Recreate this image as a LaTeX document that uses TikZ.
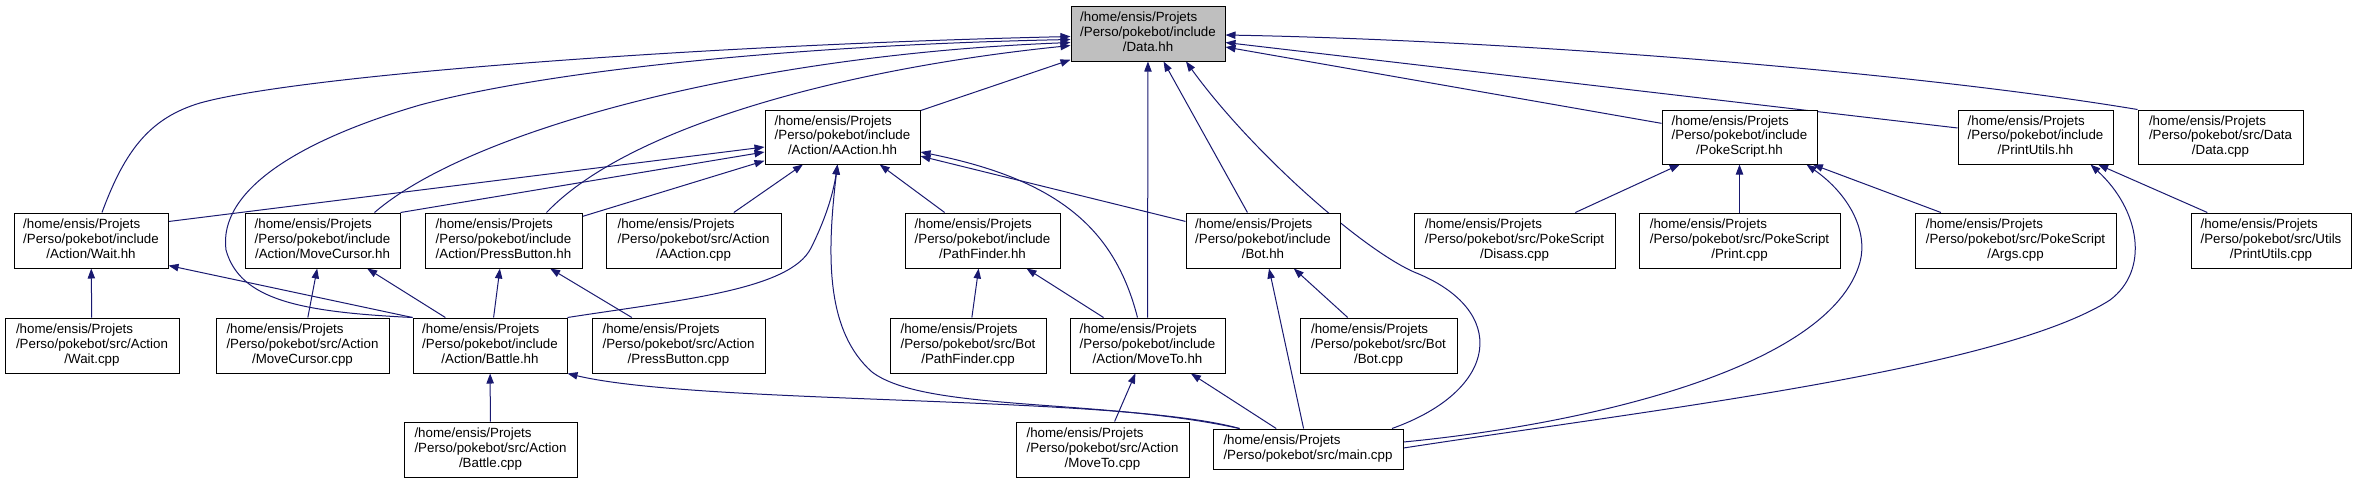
\documentclass[tikz,border=0pt]{standalone}
\usepackage{fontspec}
\setmainfont{Liberation Sans}
\usetikzlibrary{arrows.meta,calc}
\pgfdeclarelayer{background}
\pgfsetlayers{background,main}
\definecolor{edgec}{RGB}{25,25,112}
\definecolor{datafill}{RGB}{191,191,191}
\newcommand{\lblthree}[3]{\begin{tabular}{@{}l@{}}#1\\#2\\\multicolumn{1}{@{}c@{}}{#3}\end{tabular}}
\newcommand{\lbltwo}[2]{\begin{tabular}{@{}l@{}}#1\\\multicolumn{1}{@{}c@{}}{#2}\end{tabular}}
\newcommand{\bx}[7][]{%
  \pgfmathsetmacro{\bxcx}{(#3+#5)/2}%
  \pgfmathsetmacro{\bxcy}{(#4+#6)/2}%
  \pgfmathsetmacro{\bxw}{(#5-#3)*0.75}%
  \pgfmathsetmacro{\bxh}{(#6-#4)*0.75}%
  \node[box,#1,minimum width=\bxw pt,minimum height=\bxh pt] (#2) at (\bxcx,\bxcy) {#7};}
\begin{document}
\begin{tikzpicture}[x=0.75pt,y=-0.75pt,
  box/.style={draw=black,line width=0.75pt,fill=white,inner sep=0pt,font=\fontsize{10}{11}\selectfont},
  conn/.style={draw=edgec,line width=0.75pt,-{Triangle[length=7.5pt,width=5.5pt]}}]
\useasboundingbox (0,0) rectangle (2356,483);
% row 0
\bx[fill=datafill]{data}{1071}{6}{1225}{61}{\lblthree{/home/ensis/Projets}{/Perso/pokebot/include}{/Data.hh}}
% row 1
\bx{aaction}{765}{110}{920}{164}{\lblthree{/home/ensis/Projets}{/Perso/pokebot/include}{/Action/AAction.hh}}
\bx{pokescript}{1662}{110}{1817}{164}{\lblthree{/home/ensis/Projets}{/Perso/pokebot/include}{/PokeScript.hh}}
\bx{printutils}{1958}{110}{2113}{164}{\lblthree{/home/ensis/Projets}{/Perso/pokebot/include}{/PrintUtils.hh}}
\bx{datacpp}{2138}{110}{2303}{164}{\lblthree{/home/ensis/Projets}{/Perso/pokebot/src/Data}{/Data.cpp}}
% row 2
\bx{wait}{14}{213}{168}{268}{\lblthree{/home/ensis/Projets}{/Perso/pokebot/include}{/Action/Wait.hh}}
\bx{movecursor}{245}{213}{400}{268}{\lblthree{/home/ensis/Projets}{/Perso/pokebot/include}{/Action/MoveCursor.hh}}
\bx{pressbutton}{425}{213}{582}{268}{\lblthree{/home/ensis/Projets}{/Perso/pokebot/include}{/Action/PressButton.hh}}
\bx{aactioncpp}{606}{213}{781}{268}{\lblthree{/home/ensis/Projets}{/Perso/pokebot/src/Action}{/AAction.cpp}}
\bx{pathfinder}{905}{213}{1060}{268}{\lblthree{/home/ensis/Projets}{/Perso/pokebot/include}{/PathFinder.hh}}
\bx{bot}{1186}{213}{1340}{268}{\lblthree{/home/ensis/Projets}{/Perso/pokebot/include}{/Bot.hh}}
\bx{disass}{1414}{213}{1615}{268}{\lblthree{/home/ensis/Projets}{/Perso/pokebot/src/PokeScript}{/Disass.cpp}}
\bx{printcpp}{1639}{213}{1840}{268}{\lblthree{/home/ensis/Projets}{/Perso/pokebot/src/PokeScript}{/Print.cpp}}
\bx{args}{1915}{213}{2116}{268}{\lblthree{/home/ensis/Projets}{/Perso/pokebot/src/PokeScript}{/Args.cpp}}
\bx{printutilscpp}{2191}{213}{2351}{268}{\lblthree{/home/ensis/Projets}{/Perso/pokebot/src/Utils}{/PrintUtils.cpp}}
% row 3
\bx{waitcpp}{5}{318}{179}{373}{\lblthree{/home/ensis/Projets}{/Perso/pokebot/src/Action}{/Wait.cpp}}
\bx{movecursorcpp}{216}{318}{389}{373}{\lblthree{/home/ensis/Projets}{/Perso/pokebot/src/Action}{/MoveCursor.cpp}}
\bx{battle}{413}{318}{567}{373}{\lblthree{/home/ensis/Projets}{/Perso/pokebot/include}{/Action/Battle.hh}}
\bx{pressbuttoncpp}{592}{318}{765}{373}{\lblthree{/home/ensis/Projets}{/Perso/pokebot/src/Action}{/PressButton.cpp}}
\bx{pathfindercpp}{890}{318}{1046}{373}{\lblthree{/home/ensis/Projets}{/Perso/pokebot/src/Bot}{/PathFinder.cpp}}
\bx{moveto}{1070}{318}{1225}{373}{\lblthree{/home/ensis/Projets}{/Perso/pokebot/include}{/Action/MoveTo.hh}}
\bx{botcpp}{1300}{318}{1457}{373}{\lblthree{/home/ensis/Projets}{/Perso/pokebot/src/Bot}{/Bot.cpp}}
% row 4
\bx{battlecpp}{404}{422}{577}{477}{\lblthree{/home/ensis/Projets}{/Perso/pokebot/src/Action}{/Battle.cpp}}
\bx{movetocpp}{1016}{422}{1189}{477}{\lblthree{/home/ensis/Projets}{/Perso/pokebot/src/Action}{/MoveTo.cpp}}
\bx{main}{1213}{429}{1403}{469}{\lbltwo{/home/ensis/Projets}{/Perso/pokebot/src/main.cpp}}

\begin{pgfonlayer}{background}
% straight connectors
\draw[conn] (aaction) -- (data);
\draw[conn] (moveto) -- (data);
\draw[conn] (bot) -- (data);
\draw[conn] (pokescript) -- (data);
\draw[conn] (printutils) -- (data);
\draw[conn] ($(wait.east)+(0,-19)$) -- ($(aaction.west)+(0,10)$);
\draw[conn] (movecursor.north east) -- ($(aaction.west)+(0,15)$);
\draw[conn] (pressbutton) -- (aaction);
\draw[conn] (aactioncpp) -- (aaction);
\draw[conn] (pathfinder) -- (aaction);
\draw[conn] (bot) -- (aaction);
\draw[conn] (waitcpp) -- (wait);
\draw[conn] (battle.north west) -- ($(wait.east)+(0,25)$);
\draw[conn] (movecursorcpp) -- (movecursor);
\draw[conn] (battle) -- (movecursor);
\draw[conn] (battle) -- (pressbutton);
\draw[conn] (pressbuttoncpp) -- (pressbutton);
\draw[conn] (pathfindercpp) -- (pathfinder);
\draw[conn] (moveto) -- (pathfinder);
\draw[conn] (botcpp) -- (bot);
\draw[conn] (main) -- (bot);
\draw[conn] (disass) -- (pokescript);
\draw[conn] (printcpp) -- (pokescript);
\draw[conn] (args) -- (pokescript);
\draw[conn] (printutilscpp) -- (printutils);
\draw[conn] (battlecpp) -- (battle);
\draw[conn] (movetocpp) -- (moveto);
\draw[conn] (main) -- (moveto);
% curved connectors
\draw[conn] ($(wait.north)+(11,0)$) .. controls (125,150) and (150,118) .. (200,103) .. controls (300,75) and (700,45) .. ($(data.west)+(0,3)$);
\draw[conn] (battle.north west) .. controls (300,312) and (240,300) .. (226,250) .. controls (218,190) and (300,140) .. (420,105) .. controls (550,70) and (800,45) .. ($(data.west)+(0,6)$);
\draw[conn] ($(movecursor.north)+(52,0)$) .. controls (470,130) and (750,55) .. ($(data.west)+(0,9)$);
\draw[conn] ($(pressbutton.north)+(43,0)$) .. controls (630,125) and (850,68) .. ($(data.west)+(0,12)$);
\draw[conn] (datacpp.north west) .. controls (1900,70) and (1500,40) .. ($(data.east)+(0,1.5)$);
\draw[conn] ($(main.north)+(84,0)$) .. controls (1500,390) and (1510,310) .. (1414,272) .. controls (1360,248) and (1250,150) .. ($(data.south)+(38,0)$);
\draw[conn] ($(moveto.north)+(-10,0)$) .. controls (1115,230) and (1060,180) .. ($(aaction.east)+(0,15)$);
\draw[conn] (battle.north east) .. controls (680,300) and (790,290) .. (811,248) .. controls (825,220) and (833,195) .. ($(aaction.south)+(-5,0)$);
\draw[conn] ($(main.north west)+(27,0)$) .. controls (1100,398) and (925,412) .. (872,372) .. controls (827,332) and (826,260) .. ($(aaction.south)+(-5,0)$);
\draw[conn] ($(main.north west)+(27,0)$) .. controls (1120,395) and (700,405) .. (battle.south east);
\draw[conn] ($(main.east)+(0,-7)$) .. controls (1580,425) and (1830,370) .. (1860,262) .. controls (1868,232) and (1850,195) .. ($(pokescript.south)+(67,0)$);
\draw[conn] ($(main.east)+(0,-1)$) .. controls (1650,410) and (2000,370) .. (2110,300) .. controls (2150,270) and (2140,210) .. ($(printutils.south)+(55,0)$);
\end{pgfonlayer}
\end{tikzpicture}
\end{document}
